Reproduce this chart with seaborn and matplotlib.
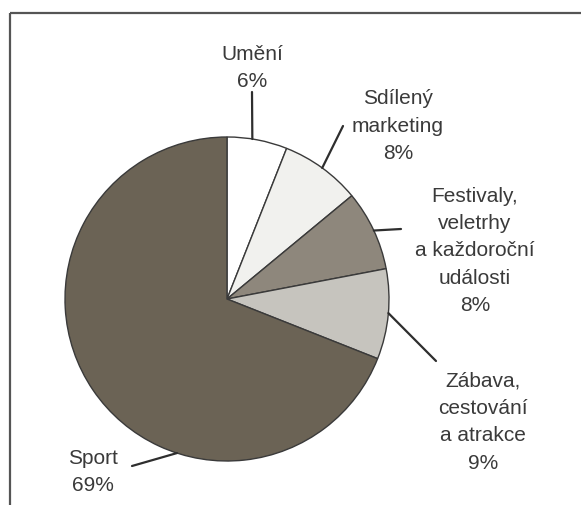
import numpy as np
import matplotlib
matplotlib.use("Agg")
import matplotlib.pyplot as plt
import seaborn as sns

# ---- data ----
categories = ["Umění", "Sdílený\nmarketing", "Festivaly,\nveletrhy\na každoroční\nudálosti",
              "Zábava,\ncestování\na atrakce", "Sport"]
shares = [6, 8, 8, 9, 69]
pct_labels = ["6%", "8%", "8%", "9%", "69%"]
slice_colors = ["#ffffff", "#f1f1ee", "#8e877c", "#c6c4be", "#6b6355"]

sns.set_theme(style="white")
plt.rcParams["font.family"] = ["Liberation Sans", "DejaVu Sans"]

W, H = 581, 506
fig = plt.figure(figsize=(W / 100, H / 100), dpi=100)
ax = fig.add_axes([0, 0, 1, 1])

def py(y):  # pixel-from-top to data coords
    return H - y

cx, cy, R = 227, 300, 162
ax.pie(shares, colors=slice_colors, startangle=90, counterclock=False,
       center=(cx, py(cy)), radius=R, frame=True,
       wedgeprops=dict(edgecolor="#3a3a3a", linewidth=1.0))
ax.set_xlim(0, W)
ax.set_ylim(0, H)
ax.set_aspect("equal")
ax.axis("off")

# frame (top and left)
ax.plot([10, W], [py(14), py(14)], color="#555555", lw=1.6, solid_capstyle="butt")
ax.plot([10, 10], [py(14), 0], color="#555555", lw=1.6, solid_capstyle="butt")

# leader lines: anchor angle (deg clockwise from top) and outer end
anchor_angles = [9, 36, 65, 95, 198]
leader_ends = [(252, 93), (343, 127), (401, 230), (436, 362), (132, 467)]
text_pos = [(252, 68), (398, 126), (475, 251), (483, 422), (93, 472)]

for cat, pct, ang, end, tp in zip(categories, pct_labels, anchor_angles, leader_ends, text_pos):
    a = np.deg2rad(ang)
    sx = cx + R * np.sin(a)
    sy = cy - R * np.cos(a)
    ax.plot([sx, end[0]], [py(sy), py(end[1])], color="#2e2e2e", lw=1.6)
    ax.text(tp[0], py(tp[1]), f"{cat}\n{pct}", ha="center", va="center",
            fontsize=15, color="#3a3a3a", linespacing=1.56, multialignment="center")

fig.savefig("out.png", dpi=100, facecolor="white")
